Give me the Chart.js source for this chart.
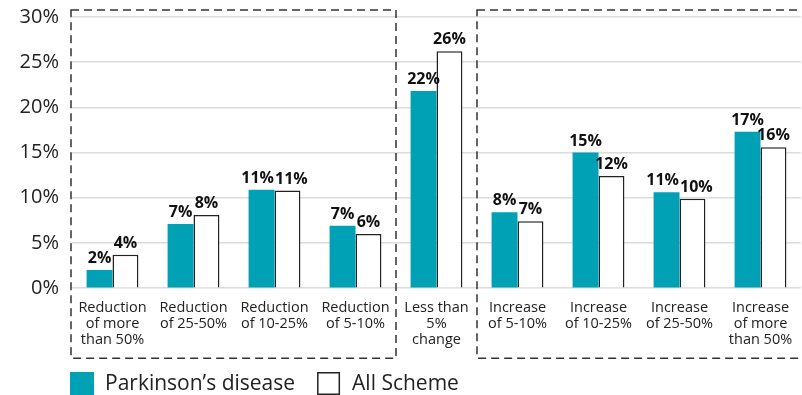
<!DOCTYPE html>
<html>
<head>
<meta charset="utf-8">
<script src="https://cdn.jsdelivr.net/npm/chart.js@4/dist/chart.umd.min.js"></script>
<style>
  html, body { margin: 0; padding: 0; background: #fff; }
  #wrap { width: 802px; height: 395px; }
</style>
</head>
<body>
<div id="wrap"><canvas id="chart"></canvas></div>
<script>
// category labels (multi-line)
const categories = [
  ['Reduction', 'of more', 'than 50%'],
  ['Reduction', 'of 25-50%'],
  ['Reduction', 'of 10-25%'],
  ['Reduction', 'of 5-10%'],
  ['Less than', '5%', 'change'],
  ['Increase', 'of 5-10%'],
  ['Increase', 'of 10-25%'],
  ['Increase', 'of 25-50%'],
  ['Increase', 'of more', 'than 50%']
];

// share of people in each change band (%)
const parkinsonsValues = [2.0, 7.1, 10.9, 6.9, 21.8, 8.4, 15.0, 10.6, 17.3];
const allSchemeValues = [3.7, 8.1, 10.8, 6.0, 26.2, 7.4, 12.4, 9.9, 15.6];

const seriesNames = ['Parkinson\u2019s disease', 'All Scheme'];

const TEAL = '#00a0b5';
const INK = '#222222';
const FONT = "'Open Sans', 'Noto Sans', sans-serif";

// draws the rounded % above each bar, nudging apart labels that collide
const valueLabels = {
  id: 'valueLabels',
  afterDatasetsDraw(chart) {
    const ctx = chart.ctx;
    ctx.save();
    ctx.font = 'bold 16px ' + FONT;
    ctx.fillStyle = '#111';
    ctx.textAlign = 'center';
    ctx.textBaseline = 'alphabetic';
    const a = chart.getDatasetMeta(0).data;
    const b = chart.getDatasetMeta(1).data;
    for (let i = 0; i < a.length; i++) {
      const items = [
        { bar: a[i], text: Math.round(chart.data.datasets[0].data[i]) + '%' },
        { bar: b[i], text: Math.round(chart.data.datasets[1].data[i]) + '%' }
      ];
      items.forEach(it => {
        it.x = it.bar.x;
        it.y = it.bar.y - 7;
        it.w = ctx.measureText(it.text).width;
      });
      const overlapX = (items[0].x + items[0].w / 2) - (items[1].x - items[1].w / 2) + 1;
      if (overlapX > 0 && Math.abs(items[0].y - items[1].y) < 15) {
        items[0].x -= overlapX / 2;
        items[1].x += overlapX / 2;
      }
      items.forEach(it => ctx.fillText(it.text, it.x, it.y));
    }
    ctx.restore();
  }
};

// dashed group boxes and the legend
const decorations = {
  id: 'decorations',
  afterDraw(chart) {
    const ctx = chart.ctx;
    const area = chart.chartArea;
    const x = chart.scales.x;
    const top = area.top - 7;
    const bottom = area.bottom + 70;
    ctx.save();
    ctx.strokeStyle = '#333';
    ctx.lineWidth = 1.5;
    ctx.setLineDash([8, 5]);
    const leftEnd = x.getPixelForValue(3.5);
    const rightStart = x.getPixelForValue(4.5);
    ctx.strokeRect(area.left - 1, top, leftEnd - area.left + 1, bottom - top);
    ctx.strokeRect(rightStart, top, area.right + 20 - rightStart, bottom - top);
    ctx.restore();

    // legend
    ctx.save();
    const box = 23;
    const ly = chart.height - box;
    let lx = area.left - 2;
    ctx.font = '21px ' + FONT;
    ctx.textBaseline = 'middle';
    ctx.fillStyle = INK;
    chart.data.datasets.forEach((ds, i) => {
      if (i === 0) {
        ctx.fillStyle = ds.backgroundColor;
        ctx.fillRect(lx, ly, box + 1, box);
      } else {
        ctx.fillStyle = '#fff';
        ctx.fillRect(lx, ly, box, box);
        ctx.strokeStyle = ds.borderColor;
        ctx.lineWidth = 1.5;
        ctx.strokeRect(lx + 0.75, ly + 0.75, box - 1.5, box - 1.5);
      }
      ctx.fillStyle = INK;
      ctx.fillText(ds.label, lx + box + 12, ly + box / 2 + 1);
      lx += box + 12 + ctx.measureText(ds.label).width + 22;
    });
    ctx.restore();
  }
};

new Chart(document.getElementById('chart'), {
  type: 'bar',
  data: {
    labels: categories,
    datasets: [
      {
        label: seriesNames[0],
        data: parkinsonsValues,
        backgroundColor: TEAL,
        borderWidth: 0
      },
      {
        label: seriesNames[1],
        data: allSchemeValues,
        backgroundColor: '#ffffff',
        borderColor: '#222222',
        borderWidth: 1.5
      }
    ]
  },
  options: {
    responsive: true,
    maintainAspectRatio: false,
    animation: false,
    layout: { padding: { top: 17, right: 1, bottom: 43, left: 0 } },
    datasets: {
      bar: { categoryPercentage: 0.64, barPercentage: 1.0 }
    },
    plugins: {
      legend: { display: false },
      tooltip: { enabled: false }
    },
    scales: {
      x: {
        grid: { display: false },
        border: { display: false },
        ticks: {
          color: INK,
          font: { family: FONT, size: 14.5, lineHeight: 1.1 },
          padding: 4,
          maxRotation: 0,
          autoSkip: false
        }
      },
      y: {
        min: 0,
        max: 30,
        afterFit(scale) {
          scale.width = 72;
          scale.paddingTop = 0;
          scale.paddingBottom = 0;
        },
        grid: { color: '#dcdcdc', lineWidth: 1.5, drawTicks: false },
        border: { display: false },
        ticks: {
          stepSize: 5,
          color: INK,
          font: { family: FONT, size: 20, lineHeight: 1 },
          padding: 13,
          callback: v => v + '%'
        }
      }
    }
  },
  plugins: [valueLabels, decorations]
});
</script>
</body>
</html>
